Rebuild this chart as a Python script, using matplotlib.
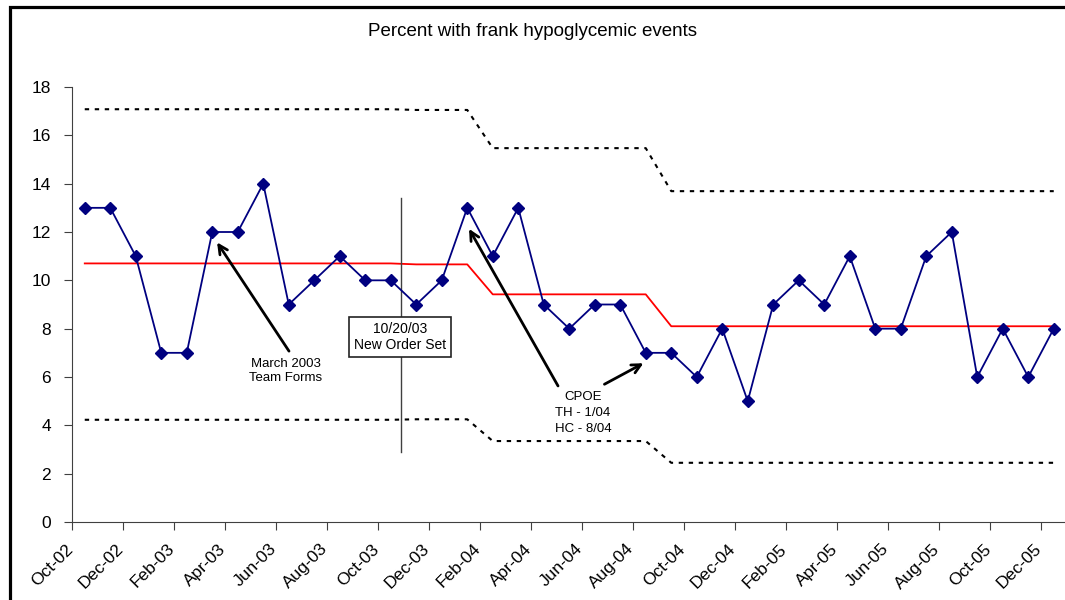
import matplotlib
matplotlib.use("Agg")
import matplotlib.pyplot as plt
import matplotlib.transforms as mtransforms
from matplotlib.patches import Rectangle

plt.rcParams['font.family'] = ['Liberation Sans', 'DejaVu Sans']

months = ['Oct-02', 'Nov-02', 'Dec-02', 'Jan-03', 'Feb-03', 'Mar-03', 'Apr-03',
          'May-03', 'Jun-03', 'Jul-03', 'Aug-03', 'Sep-03', 'Oct-03', 'Nov-03',
          'Dec-03', 'Jan-04', 'Feb-04', 'Mar-04', 'Apr-04', 'May-04', 'Jun-04',
          'Jul-04', 'Aug-04', 'Sep-04', 'Oct-04', 'Nov-04', 'Dec-04', 'Jan-05',
          'Feb-05', 'Mar-05', 'Apr-05', 'May-05', 'Jun-05', 'Jul-05', 'Aug-05',
          'Sep-05', 'Oct-05', 'Nov-05', 'Dec-05']
pct = [13, 13, 11, 7, 7, 12, 12, 14, 9, 10, 11, 10, 10, 9, 10, 13, 11, 13, 9,
       8, 9, 9, 7, 7, 6, 8, 5, 9, 10, 9, 11, 8, 8, 11, 12, 6, 8, 6, 8]

# control limits per phase (months in each phase)
phase_len = [13, 3, 7, 16]
center = [10.70, 10.66, 9.42, 8.10]
upper = [17.08, 17.05, 15.47, 13.69]
lower = [4.23, 4.25, 3.35, 2.45]


def expand(vals):
    out = []
    for n, v in zip(phase_len, vals):
        out += [v] * n
    return out


x = list(range(len(months)))

fig = plt.figure(figsize=(10.65, 6.0), dpi=100)
ax = fig.add_axes([72 / 1065, 0.13, 994.5 / 1065, 0.725])

dash = (0, (2.1, 2.7))
ax.plot(x, expand(upper), color='black', lw=1.5, linestyle=dash)
ax.plot(x, expand(lower), color='black', lw=1.5, linestyle=dash)
ax.plot(x, expand(center), color='red', lw=1.3)
ax.plot(x, pct, color='#000080', lw=1.3, marker='D', markersize=6,
        markerfacecolor='#000080', markeredgecolor='#000080', zorder=4)

# order set start
ax.plot([12.4, 12.4], [2.9, 13.4], color='#404040', lw=1, zorder=2)
ax.text(12.36, 7.64, '10/20/03\nNew Order Set', ha='center', va='center',
        fontsize=10, zorder=5,
        bbox=dict(boxstyle='square,pad=0.35', fc='white', ec='#222222', lw=1.2))

arrow = dict(arrowstyle='->', lw=2, color='black', mutation_scale=16,
             shrinkA=0, shrinkB=0)
ax.annotate('', xy=(5.19, 11.57), xytext=(8.01, 7.07), arrowprops=arrow)
ax.text(7.89, 6.24, 'March 2003\nTeam Forms', ha='center', va='center',
        fontsize=9.5)
ax.annotate('', xy=(15.07, 12.13), xytext=(18.56, 5.63), arrowprops=arrow)
ax.annotate('', xy=(21.91, 6.57), xytext=(20.38, 5.70), arrowprops=arrow)
ax.text(19.54, 4.51, 'CPOE\nTH - 1/04\nHC - 8/04', ha='center', va='center',
        fontsize=9.5, linespacing=1.45)

ax.set_xlim(-0.5, len(months) - 0.5)
ax.set_ylim(0, 18)
ax.set_yticks(range(0, 19, 2))
ax.set_xticks([i - 0.5 for i in x[::2]])
ax.set_xticklabels(months[::2], rotation=45, ha='right',
                   rotation_mode='anchor')
ax.tick_params(axis='both', labelsize=12.5, length=6, color='#404040')
ax.tick_params(axis='y', pad=9)
ax.tick_params(axis='x', pad=5)
shift = mtransforms.ScaledTranslation(-7 / 100, -4 / 100, fig.dpi_scale_trans)
for lab in ax.get_xticklabels():
    lab.set_transform(lab.get_transform() + shift)
for s in ['top', 'right']:
    ax.spines[s].set_visible(False)
for s in ['left', 'bottom']:
    ax.spines[s].set_color('#404040')

fig.text(533 / 1065, 1 - 32 / 600, 'Percent with frank hypoglycemic events',
         ha='center', va='center', fontsize=13.5)

# outer frame
fig.add_artist(Rectangle((10 / 1065, -0.1), 1.2, 1.1 - 7 / 600,
                         transform=fig.transFigure, fill=False, lw=2.3,
                         ec='black', clip_on=False))

fig.savefig('out.png', dpi=100)
